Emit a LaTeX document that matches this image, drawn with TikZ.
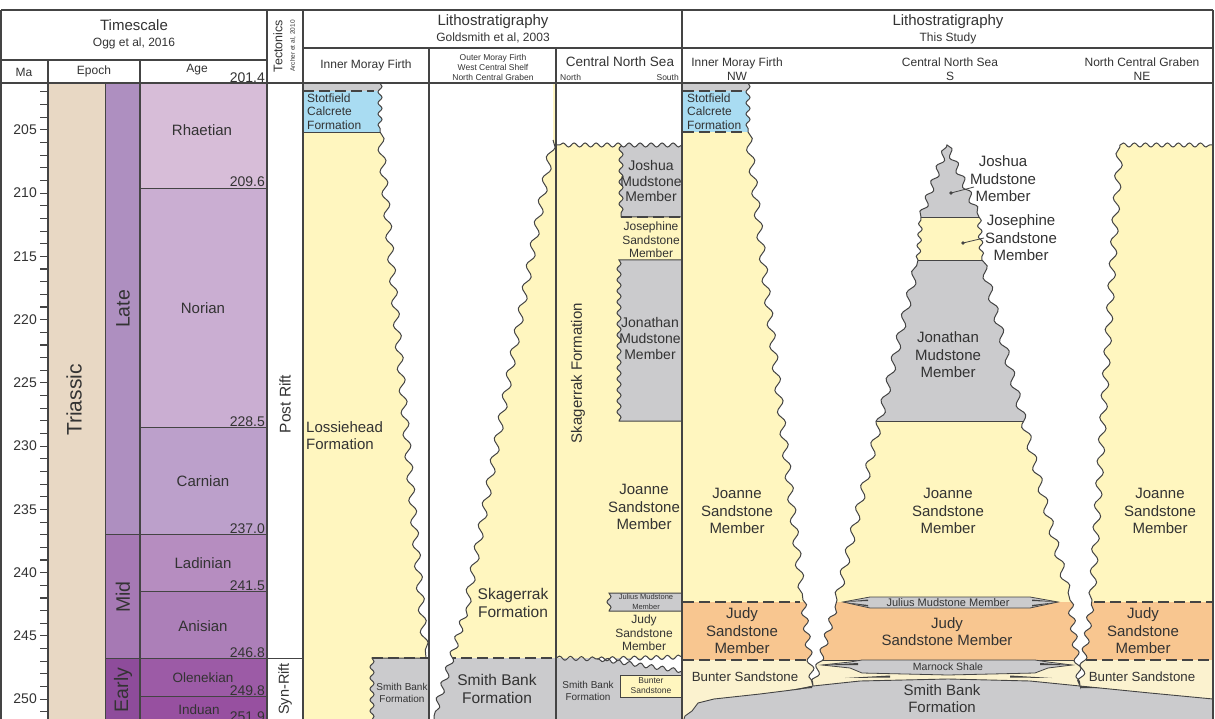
\documentclass[tikz,border=0pt]{standalone}
\usepackage{fontspec}
\setmainfont{Liberation Sans}
\usetikzlibrary{decorations.pathmorphing}
\definecolor{txt}{HTML}{333333}
\definecolor{frm}{HTML}{444444}
\definecolor{triC}{HTML}{E8D8C4}
\definecolor{lateC}{HTML}{AE8FC0}
\definecolor{midC}{HTML}{A679B4}
\definecolor{earlyC}{HTML}{8E4C9B}
\definecolor{rhaC}{HTML}{D7BDD8}
\definecolor{norC}{HTML}{CAAED2}
\definecolor{carC}{HTML}{BCA0CB}
\definecolor{ladC}{HTML}{B68DC0}
\definecolor{aniC}{HTML}{AC7FB8}
\definecolor{oleC}{HTML}{9C5BA6}
\definecolor{indC}{HTML}{9750A0}
\definecolor{yelC}{HTML}{FFF6BF}
\definecolor{greyC}{HTML}{CBCBCD}
\definecolor{blueC}{HTML}{A9DCF2}
\definecolor{oraC}{HTML}{F8C690}
\definecolor{bunC}{HTML}{FBF2CF}
\begin{document}
\begin{tikzpicture}[x=1pt,y=-1pt,
  lb/.style={text=txt,align=center,inner sep=0pt,font=\fontsize{15}{17.5}\selectfont},
  md/.style={text=txt,align=center,inner sep=0pt,font=\fontsize{13.5}{15.5}\selectfont},
  sm/.style={text=txt,align=center,inner sep=0pt,font=\fontsize{12}{13.5}\selectfont},
  sx/.style={text=txt,align=center,inner sep=0pt,font=\fontsize{10}{12}\selectfont},
  tn/.style={text=txt,align=center,inner sep=0pt,font=\fontsize{8.5}{10}\selectfont},
  nm/.style={text=txt,inner sep=0pt,font=\fontsize{14}{16}\selectfont},
  bd/.style={draw=frm,line width=0.9pt},
  fr/.style={draw=frm,line width=1.2pt},
  dsh/.style={draw=frm,line width=1.4pt,dash pattern=on 11pt off 5pt},
  snf/.style={decoration={snake,amplitude=2pt,segment length=11pt}},
  snm/.style={decoration={snake,amplitude=3pt,segment length=16pt}},
  snb/.style={decoration={snake,amplitude=3.5pt,segment length=22pt}},
]
\useasboundingbox (0,0) rectangle (1215,719);
\clip (0,0) rectangle (1215,719);
\fill[white] (0,0) rectangle (1215,719);

% ---------------- Timescale ----------------
\fill[triC] (48,83) rectangle (105,719);
\fill[lateC] (105,83) rectangle (140,534.7);
\fill[midC] (105,534.7) rectangle (140,658.7);
\fill[earlyC] (105,658.7) rectangle (140,719);
\fill[rhaC] (140,83) rectangle (267,188.1);
\fill[norC] (140,188.1) rectangle (267,427.2);
\fill[carC] (140,427.2) rectangle (267,534.7);
\fill[ladC] (140,534.7) rectangle (267,591.6);
\fill[aniC] (140,591.6) rectangle (267,658.7);
\fill[oleC] (140,658.7) rectangle (267,696.6);
\fill[indC] (140,696.6) rectangle (267,719);
\draw[bd,line width=0.6pt] (105,83) -- (105,719);
\foreach \yy in {188.1,427.2,591.6,696.6} \draw[bd,line width=0.7pt] (140,\yy) -- (267,\yy);
\draw[bd,line width=0.7pt] (105,534.7) -- (267,534.7);
\draw[bd,line width=0.7pt] (105,658.7) -- (303,658.7);

\foreach \t in {202,...,251} \draw[frm,line width=1.1pt] (40,{129.9+12.65*(\t-205)}) -- (48,{129.9+12.65*(\t-205)});
\foreach \t in {205,210,...,250} \node[nm,anchor=east] (ma\t) at (37,{129.9+12.65*(\t-205)}) {\t};

\node[text=txt,inner sep=0pt,rotate=90,font=\fontsize{21}{24}\selectfont] (tri) at (74,400) {Triassic};
\node[text=txt,inner sep=0pt,rotate=90,font=\fontsize{19.5}{22}\selectfont] (late) at (123,309) {Late};
\node[text=txt,inner sep=0pt,rotate=90,font=\fontsize{19.5}{22}\selectfont] (mid) at (123,597) {Mid};
\node[text=txt,inner sep=0pt,rotate=90,font=\fontsize{19.5}{22}\selectfont] (early) at (123,690) {Early};

\node[lb] (rha) at (202,130) {Rhaetian};
\node[lb] (nor) at (203,308) {Norian};
\node[lb] (car) at (203,481) {Carnian};
\node[lb] (lad) at (203,563) {Ladinian};
\node[lb] (ani) at (203,626) {Anisian};
\node[md] (ole) at (203,678) {Olenekian};
\node[md] (ind) at (199,710) {Induan};
\node[nm,anchor=base east] (b1) at (265,82.5) {201.4};
\node[nm,anchor=base east] (b2) at (265,187) {209.6};
\node[nm,anchor=base east] (b3) at (265,426) {228.5};
\node[nm,anchor=base east] (b4) at (265,533.5) {237.0};
\node[nm,anchor=base east] (b5) at (265,590.5) {241.5};
\node[nm,anchor=base east] (b6) at (265,657.5) {246.8};
\node[nm,anchor=base east] (b7) at (265,695.5) {249.8};
\node[nm,anchor=base east] (b8) at (265,721) {251.9};

\node[text=txt,inner sep=0pt,rotate=90,font=\fontsize{15.5}{18}\selectfont] (post) at (285,404) {Post Rift};
\node[text=txt,inner sep=0pt,rotate=90,font=\fontsize{14.5}{17}\selectfont] (syn) at (285,689) {Syn-Rift};

% ---------------- Goldsmith column 1 ----------------
\fill[greyC] (303,83) rectangle (429,91);
\fill[blueC] (303,91) rectangle (429,132);
\fill[yelC] (303,132) rectangle (429,719);
\path[fill=greyC,draw=frm,line width=1pt] (429,658) -- (372,658) decorate[snf]{-- (372,722)} -- (429,722);
\path[fill=white] (380,83) decorate[snf]{-- (380,132)} decorate[snb]{-- (426,658)} -- (429,658) -- (429,83) -- cycle;
\draw[frm,line width=1pt] (380,83) decorate[snf]{-- (380,132)} decorate[snb]{-- (426,658)};
\draw[dsh] (303,91) -- (374,91);
\draw[bd] (303,132) -- (380,132);
\draw[dsh] (372,658) -- (429,658);
\node[sm,align=left,anchor=north west] (stg) at (307,93.5) {Stotfield\\Calcrete\\Formation};
\node[lb,align=left,anchor=north west] (los) at (306,421) {Lossiehead\\Formation};
\node[sx] (sb1) at (402,693) {Smith Bank\\Formation};

% ---------------- Goldsmith column 2 ----------------
\fill[yelC] (429,83) rectangle (556,658);
\fill[greyC] (429,658) rectangle (556,719);
\draw[dsh] (429,658) -- (556,658);
\path[fill=white] (429,83) -- (553,83) -- (553,140) decorate[snb]{-- (466,610)} decorate[snm]{-- (434,716)} -- (434,722) -- (429,722) -- cycle;
\draw[frm,line width=1pt] (553,140) decorate[snb]{-- (466,610)} decorate[snm]{-- (434,716)} -- (434,722);
\node[text=txt,align=center,inner sep=0pt,font=\fontsize{15.5}{18}\selectfont] (skg) at (513,603) {Skagerrak\\Formation};
\node[text=txt,align=center,inner sep=0pt,font=\fontsize{15.5}{18}\selectfont] (sb2) at (497,689) {Smith Bank\\Formation};

% ---------------- Goldsmith column 3 ----------------
\fill[yelC] (556,140) rectangle (682,658);
\path[fill=greyC,draw=frm,line width=1pt] (682,140) -- (621,140) decorate[snf]{-- (621,217)} -- (682,217);
\draw[dsh] (621,217) -- (682,217);
\path[fill=greyC,draw=frm,line width=1pt] (682,260) -- (619,260) decorate[snf]{-- (619,421)} -- (682,421);
\path[fill=greyC,draw=frm,line width=1pt] (682,593) -- (609,593) decorate[snf]{-- (609,611)} -- (682,611);
\fill[greyC] (556,658) rectangle (682,722);
\path[fill=white,draw=frm,line width=1pt] (598,659) decorate[snf]{-- (682,657)} -- (682,671) decorate[snf]{-- (598,659)} -- cycle;
\draw[frm,line width=1pt] (556,658) decorate[snf]{-- (598,659)};
\path[fill=yelC,draw=frm,line width=1pt] (620,675) rectangle (682,697);
\path[fill=white] (556,83) -- (682,83) -- (682,145) decorate[snf]{-- (556,145)} -- cycle;
\draw[frm,line width=1pt] (682,145) decorate[snf]{-- (556,145)};
\node[text=txt,inner sep=0pt,rotate=90,font=\fontsize{15}{18}\selectfont] (skr) at (578,373) {Skagerrak Formation};
\node[text=txt,align=center,inner sep=0pt,font=\fontsize{14}{15.8}\selectfont] (jsh3) at (651,181) {Joshua\\Mudstone\\Member};
\node[sm] (jsp3) at (651,240) {Josephine\\Sandstone\\Member};
\node[text=txt,align=center,inner sep=0pt,font=\fontsize{14}{16}\selectfont] (jon3) at (650,338) {Jonathan\\Mudstone\\Member};
\node[lb] (joa3) at (644,507) {Joanne\\Sandstone\\Member};
\node[text=txt,align=center,inner sep=0pt,font=\fontsize{7.5}{9.5}\selectfont] (jul3) at (646,602) {Julius Mudstone\\Member};
\node[sm] (jud3) at (644,633) {Judy\\Sandstone\\Member};
\node[sx] (sb3) at (588,691) {Smith Bank\\Formation};
\node[tn] (bun3) at (651,686) {Bunter\\Sandstone};

% ---------------- This Study ----------------
\fill[yelC] (683,132) rectangle (1213,602);
\fill[greyC] (890,140) rectangle (1010,217);
\fill[greyC] (840,260) rectangle (1070,421);
\draw[bd] (890,217) -- (1010,217);
\draw[bd] (880,260) -- (1050,260);
\draw[bd] (840,421) -- (1070,421);
\fill[oraC] (683,602) rectangle (1213,660);
\path[fill=greyC,draw=frm,line width=0.8pt] (843,602) -- (870,597) -- (1030,597) -- (1058,602) -- (1030,608) -- (870,608) -- cycle;
\fill[frm] (843,602) -- (868,599.5) -- (868,601) -- cycle;
\fill[frm] (1058,602) -- (1032,599.5) -- (1032,601) -- cycle;
\fill[frm] (843,602) -- (868,606.5) -- (868,605) -- cycle;
\fill[frm] (1058,602) -- (1032,606.5) -- (1032,605) -- cycle;
\fill[bunC] (683,660) rectangle (1213,722);
\draw[bd] (820,660) -- (1080,660);
\path[fill=greyC,draw=frm,line width=0.8pt] (822,665) -- (850,662) -- (862,660) -- (1035,660) -- (1048,662) -- (1072,665) -- (1048,668) -- (1035,673) -- (948,675) -- (862,673) -- (850,668) -- cycle;
\fill[frm] (822,665) -- (858,663) -- (858,665) -- cycle;
\fill[frm] (1072,665) -- (1040,663) -- (1040,665) -- cycle;
\fill[frm] (845,678) -- (890,675.5) -- (890,677.5) -- cycle;
\fill[frm] (1052,678) -- (1010,675.5) -- (1010,677.5) -- cycle;
\path[fill=greyC,draw=frm,line width=0.9pt] (683,722) -- (685,716) -- (692,711) -- (698,703) -- (714,699) -- (760,694) -- (800,689) -- (813,686) -- (860,681) -- (948,679) -- (1030,681) -- (1080,686) -- (1150,693) -- (1213,699) -- (1213,722) -- cycle;
\fill[frm] (790,690) -- (812,686) -- (812,688) -- cycle;
\fill[frm] (1100,688) -- (1080,686) -- (1080,688) -- cycle;
\fill[greyC] (683,83) rectangle (760,91);
\fill[blueC] (683,91) rectangle (760,132);
% white background areas with wavy edges
\path[fill=white,draw=frm,line width=1pt] (1213,83) -- (748,83)
  decorate[snf]{-- (748,132)}
  decorate[snb]{-- (803,600)}
  decorate[snm]{-- (813,686)}
  decorate[snm]{-- (837,600)}
  decorate[snb]{-- (918,260)}
  decorate[snf]{-- (921,217)}
  decorate[snm]{-- (947,145)}
  decorate[snm]{-- (979,217)}
  decorate[snf]{-- (982,260)}
  decorate[snb]{-- (1070,600)}
  decorate[snm]{-- (1080,686)}
  decorate[snm]{-- (1092,600)}
  decorate[snb]{-- (1120,145)}
  decorate[snf]{-- (1213,145)}
  -- cycle;
\draw[dsh] (683,91) -- (745,91);
\draw[dsh] (683,132) -- (746,132);
\draw[dsh] (683,602) -- (800,602);
\draw[dsh] (683,660) -- (806,660);
\draw[dsh] (1094,602) -- (1213,602);
\draw[dsh] (1086,660) -- (1213,660);
\node[sm,align=left,anchor=north west] (stt) at (687,93.5) {Stotfield\\Calcrete\\Formation};
\node[lb] (jshl) at (1003,179) {Joshua\\Mudstone\\Member};
\node[lb] (jspl) at (1021,238) {Josephine\\Sandstone\\Member};
\coordinate (jshd) at (951,193);
\coordinate (jshe) at (974,187);
\coordinate (jspd) at (963,243);
\coordinate (jspe) at (984,238);
\fill[frm] (jshd) circle (1.8);
\fill[frm] (jspd) circle (1.8);
\draw[frm,line width=0.8pt] (jshd) -- (jshe);
\draw[frm,line width=0.8pt] (jspd) -- (jspe);
\node[lb] (jonc) at (948,355) {Jonathan\\Mudstone\\Member};
\node[lb] (joaw) at (737,511) {Joanne\\Sandstone\\Member};
\node[lb] (joac) at (948,511) {Joanne\\Sandstone\\Member};
\node[lb] (joae) at (1160,511) {Joanne\\Sandstone\\Member};
\node[text=txt,inner sep=0pt,font=\fontsize{11}{12}\selectfont] (julc) at (948,602.5) {Julius Mudstone Member};
\node[lb] (judw) at (742,631) {Judy\\Sandstone\\Member};
\node[lb] (judc) at (947,631.5) {Judy\\Sandstone Member};
\node[lb] (jude) at (1143,631) {Judy\\Sandstone\\Member};
\node[text=txt,inner sep=0pt,font=\fontsize{10.5}{12}\selectfont] (marn) at (948,666.5) {Marnock Shale};
\node[text=txt,inner sep=0pt,font=\fontsize{13.3}{15}\selectfont] (bunw) at (745,677) {Bunter Sandstone};
\node[text=txt,inner sep=0pt,font=\fontsize{13.3}{15}\selectfont] (bune) at (1142,677) {Bunter Sandstone};
\node[lb] (sbc) at (942,698.5) {Smith Bank\\Formation};

% ---------------- Header ----------------
\node[lb] (ts) at (134,25) {Timescale};
\node[sm] (ogg) at (134,43) {Ogg et al, 2016};
\node[sm] (hma) at (24,72) {Ma};
\node[sm] (hep) at (94,71) {Epoch};
\node[sm] (hag) at (197,70) {Age};
\node[text=txt,inner sep=0pt,rotate=90,font=\fontsize{12.5}{14}\selectfont] (tec) at (278,46) {Tectonics};
\node[text=txt,inner sep=0pt,rotate=90,font=\fontsize{6.5}{7}\selectfont] (arc) at (293,46) {Archer et al, 2010};
\node[lb] (lg) at (493,22) {Lithostratigraphy};
\node[sm] (gs) at (493,38) {Goldsmith et al, 2003};
\node[sm] (imf1) at (366,65) {Inner Moray Firth};
\node[tn] (omf) at (493,67) {Outer Moray Firth\\West Central Shelf\\North Central Graben};
\node[text=txt,inner sep=0pt,font=\fontsize{13.5}{15}\selectfont] (cns1) at (620,62) {Central North Sea};
\node[tn,anchor=west] (nth) at (560,77) {North};
\node[tn,anchor=east] (sth) at (679,77) {South};
\node[lb] (lt) at (948,22) {Lithostratigraphy};
\node[sm] (tst) at (948,38) {This Study};
\node[sm] (imf2) at (737,69) {Inner Moray Firth\\NW};
\node[sm] (cns2) at (950,69) {Central North Sea\\S};
\node[sm] (ncg) at (1142,69) {North Central Graben\\NE};

% ---------------- Frame ----------------
\draw[fr] (1,10) -- (1213,10);
\draw[fr] (1,60) -- (267,60);
\draw[fr] (303,48) -- (1213,48);
\draw[fr] (1,83) -- (1213,83);
\draw[fr] (1,10) -- (1,722);
\draw[fr] (48,60) -- (48,722);
\draw[fr] (140,60) -- (140,722);
\draw[fr] (267,10) -- (267,722);
\draw[fr] (303,10) -- (303,722);
\draw[fr] (429,48) -- (429,722);
\draw[fr] (556,48) -- (556,722);
\draw[fr] (682,10) -- (682,722);
\draw[fr] (1213,10) -- (1213,722);
\end{tikzpicture}
\end{document}
